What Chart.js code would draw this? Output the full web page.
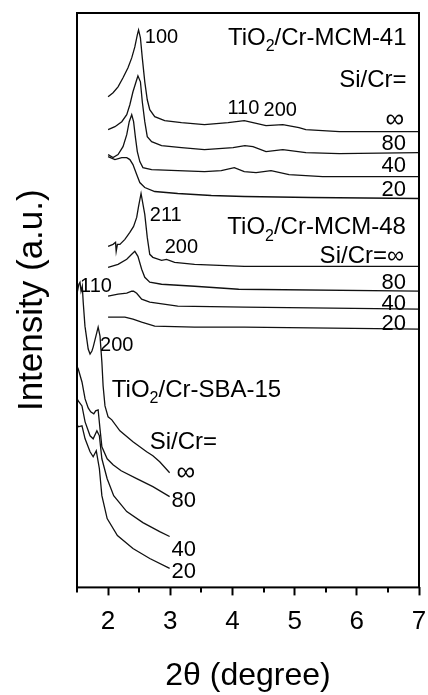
<!DOCTYPE html>
<html>
<head>
<meta charset="utf-8">
<script src="https://cdn.jsdelivr.net/npm/chart.js@4.4.1/dist/chart.umd.min.js"></script>
<style>
    body { margin: 0; background: #fff; }
</style>
</head>
<body>
<canvas id="chart1" width="428" height="695"></canvas>
<script>
// XRD patterns, [2theta, intensity] (offsets included)
var mcm41_inf = [[2.00,492],[2.08,496],[2.16,502],[2.24,511],[2.32,521],[2.38,531],[2.43,542],[2.47,554],[2.49,559],[2.52,551],[2.55,531],[2.59,507],[2.63,489],[2.67,479],[2.75,472],[2.91,468],[3.18,466],[3.55,464],[3.93,466],[4.19,468],[4.33,466],[4.54,463],[4.81,464],[5.07,461],[5.18,459],[5.72,457],[6.36,457],[7.0,457]]
var mcm41_80 = [[2.00,459],[2.11,462],[2.22,467],[2.30,474],[2.35,484],[2.40,497],[2.46,509],[2.48,513],[2.52,507],[2.55,487],[2.59,467],[2.63,452],[2.70,447],[2.86,443],[3.18,441],[3.55,439],[4.01,441],[4.20,443],[4.33,442],[4.54,437],[4.81,439],[5.18,436],[5.72,435],[7.0,436]]
var mcm41_40 = [[2.00,434],[2.08,431],[2.16,434],[2.24,442],[2.30,454],[2.34,467],[2.38,474],[2.41,467],[2.44,451],[2.47,437],[2.51,427],[2.56,421],[2.70,419],[3.12,418],[3.55,417],[3.82,418],[4.03,421],[4.19,417],[4.38,416],[4.62,418],[4.91,414],[5.45,412],[7.0,412]]
var mcm41_20 = [[2.00,432],[2.11,429],[2.22,431],[2.30,431],[2.35,429],[2.40,424],[2.46,414],[2.51,406],[2.59,401],[2.75,397],[3.12,395],[3.66,393],[4.19,392],[5.26,391],[7.0,390]]

var mcm48_inf = [[2.00,342],[2.08,344],[2.12,346],[2.13,337],[2.15,344],[2.19,344],[2.27,349],[2.35,356],[2.41,362],[2.46,371],[2.49,382],[2.53,395],[2.59,374],[2.63,351],[2.67,334],[2.72,331],[2.86,328],[2.94,329],[3.07,326],[3.39,324],[4.19,322],[7.0,322]]
var mcm48_80 = [[2.00,321],[2.16,324],[2.30,329],[2.38,334],[2.43,337],[2.48,332],[2.54,319],[2.59,311],[2.67,306],[2.86,304],[3.39,302],[4.10,299],[7.0,297]]
var mcm48_40 = [[2.00,292],[2.16,294],[2.30,295],[2.38,297],[2.41,297],[2.46,295],[2.54,289],[2.67,286],[3.12,282],[4.19,281],[7.0,279]]
var mcm48_20 = [[2.00,271],[2.27,271],[2.40,269],[2.54,266],[2.75,262],[3.39,261],[4.19,261],[7.0,259]]

var sba_inf = [[1.505,296],[1.53,304],[1.548,306],[1.565,297],[1.585,302],[1.60,286],[1.628,262],[1.68,239],[1.71,234],[1.74,237],[1.76,241],[1.82,256],[1.84,261],[1.87,252],[1.90,226],[1.92,202],[1.95,182],[2.00,171],[2.06,168],[2.19,157],[2.40,146],[2.62,136],[2.72,132],[2.83,126],[2.99,115]]
var sba_80 = [[1.505,221],[1.52,219],[1.58,206],[1.63,189],[1.68,180],[1.72,176],[1.77,174],[1.80,177],[1.84,178],[1.87,159],[1.90,141],[1.985,129],[2.08,123],[2.21,117],[2.46,109],[2.72,101],[2.99,91]]
var sba_40 = [[1.505,189],[1.52,187],[1.58,182],[1.63,166],[1.71,152],[1.76,149],[1.82,157],[1.86,152],[1.90,129],[1.985,109],[2.09,92],[2.30,76],[2.56,65],[2.83,56],[2.99,51]]
var sba_20 = [[1.505,163],[1.52,161],[1.58,162],[1.63,149],[1.71,136],[1.76,131],[1.81,137],[1.86,119],[1.90,92],[1.985,69],[2.15,52],[2.40,39],[2.67,29],[2.99,19]]

var majorTicks = [2, 3, 4, 5, 6, 7]
var minorTicks = [1.5, 2.5, 3.5, 4.5, 5.5, 6.5]

// text in the plot: [x, y, text, align, size]; "|2|" marks a subscript
var notes = [
    [2.59, 553, "100", "left", 20],
    [6.80, 553, "TiO|2|/Cr-MCM-41", "right", 24],
    [6.80, 510, "Si/Cr=", "right", 24],
    [3.92, 482, "110", "left", 20],
    [4.50, 480, "200", "left", 20],
    [6.76, 471, "\u221e", "right", 26],
    [6.79, 447, "80", "right", 22],
    [6.79, 424, "40", "right", 22],
    [6.79, 400, "20", "right", 22],
    [2.67, 375, "211", "left", 20],
    [2.91, 343, "200", "left", 20],
    [6.79, 363, "TiO|2|/Cr-MCM-48", "right", 24],
    [6.76, 334, "Si/Cr=\u221e", "right", 24],
    [6.79, 307, "80", "right", 22],
    [6.79, 286, "40", "right", 22],
    [6.79, 266, "20", "right", 22],
    [1.55, 303, "110", "left", 20],
    [1.87, 244, "200", "left", 20],
    [2.06, 200, "TiO|2|/Cr-SBA-15", "left", 24],
    [2.67, 147, "Si/Cr=", "left", 24],
    [3.10, 117, "\u221e", "left", 26],
    [3.02, 89, "80", "left", 22],
    [3.02, 39, "40", "left", 22],
    [3.02, 17, "20", "left", 22]
]

var fam = "'Liberation Sans', Arial, sans-serif"

function trace(points) {
    return {
        data: points,
        borderColor: '#111',
        borderWidth: 1.3,
        pointRadius: 0,
        tension: 0,
        fill: false
    }
}

var extras = {
    id: 'extras',
    afterDraw: function (chart) {
        var ctx = chart.ctx
        var a = chart.chartArea
        var xs = chart.scales.x
        var ys = chart.scales.y
        ctx.save()
        // box round the plot
        ctx.strokeStyle = '#000'
        ctx.lineWidth = 2
        ctx.strokeRect(a.left, a.top, a.right - a.left, a.bottom - a.top)
        // short minor ticks under the axis
        minorTicks.forEach(function (v) {
            var px = Math.round(xs.getPixelForValue(v))
            ctx.beginPath()
            ctx.moveTo(px, a.bottom)
            ctx.lineTo(px, a.bottom + 5)
            ctx.stroke()
        })
        ctx.fillStyle = '#000'
        ctx.textBaseline = 'alphabetic'
        notes.forEach(function (n) {
            var size = n[4]
            var subSize = Math.round(size * 0.68)
            var parts = n[2].split('|')
            var widths = parts.map(function (p, i) {
                ctx.font = (i % 2 ? subSize : size) + 'px ' + fam
                return ctx.measureText(p).width
            })
            var total = widths.reduce(function (s, w) { return s + w }, 0)
            var px = xs.getPixelForValue(n[0])
            var base = ys.getPixelForValue(n[1]) + size * 0.36
            var x = n[3] == 'right' ? px - total : px
            parts.forEach(function (p, i) {
                ctx.font = (i % 2 ? subSize : size) + 'px ' + fam
                ctx.fillText(p, x, i % 2 ? base + size * 0.28 : base)
                x += widths[i]
            })
        })
        ctx.restore()
    }
}

var ctx1 = document.getElementById('chart1')
var myChart = new Chart(ctx1, {
    type: 'line',
    data: {
        datasets: [
            trace(mcm41_inf), trace(mcm41_80), trace(mcm41_40), trace(mcm41_20),
            trace(mcm48_inf), trace(mcm48_80), trace(mcm48_40), trace(mcm48_20),
            trace(sba_inf), trace(sba_80), trace(sba_40), trace(sba_20)
        ]
    },
    options: {
        responsive: false,
        animation: false,
        layout: { padding: { left: 0, right: 9, top: 13, bottom: 0 } },
        plugins: {
            legend: { display: false },
            tooltip: { enabled: false }
        },
        scales: {
            x: {
                type: 'linear',
                min: 1.5,
                max: 7,
                afterBuildTicks: function (scale) {
                    scale.ticks = majorTicks.map(function (v) { return { value: v } })
                },
                afterFit: function (scale) {
                    scale.paddingLeft = 0
                    scale.paddingRight = 0
                },
                ticks: {
                    color: '#000',
                    padding: 11,
                    font: { size: 26, family: fam }
                },
                grid: {
                    drawOnChartArea: false,
                    drawTicks: true,
                    tickLength: 8,
                    tickWidth: 2,
                    tickColor: '#000'
                },
                border: { display: false },
                title: {
                    display: true,
                    text: '2\u03b8 (degree)',
                    color: '#000',
                    font: { size: 32, family: fam },
                    padding: { top: 8, bottom: 0 }
                }
            },
            y: {
                min: 0,
                max: 576,
                ticks: { display: false },
                grid: { display: false, drawTicks: false },
                border: { display: false },
                title: {
                    display: true,
                    text: 'Intensity (a.u.)',
                    color: '#000',
                    font: { size: 35, family: fam },
                    padding: { top: 11, bottom: 24 }
                }
            }
        }
    },
    plugins: [extras]
})
</script>
</body>
</html>
